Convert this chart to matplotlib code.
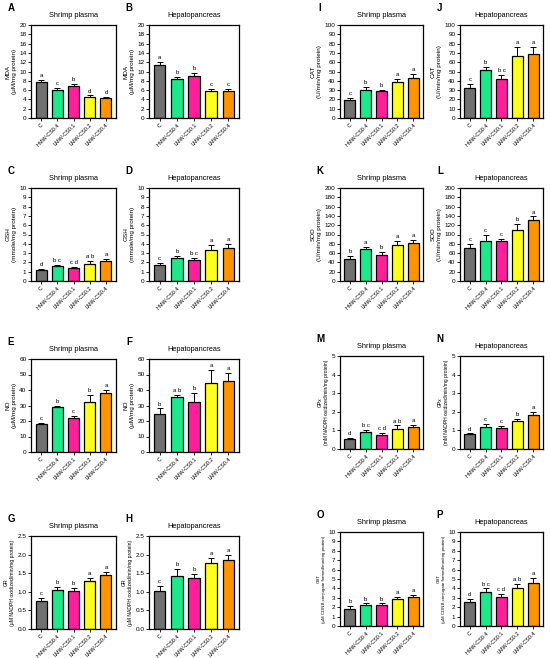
import matplotlib
matplotlib.use("Agg")
import matplotlib.pyplot as plt
import numpy as np

plt.rcParams['font.family'] = ['Liberation Sans', 'DejaVu Sans']

groups = ["C", "HMW-CS0.4", "LMW-CS0.1", "LMW-CS0.2", "LMW-CS0.4"]
colors = ["#707070", "#1fe88a", "#ff1f9a", "#ffff1f", "#ff9300"]

# values, errors, letters for each panel
mda_plasma = [7.8, 6.0, 6.9, 4.5, 4.3]
mda_plasma_err = [0.3, 0.4, 0.4, 0.35, 0.3]
mda_plasma_sig = ["a", "c", "b", "d", "d"]
mda_hep = [11.3, 8.4, 9.1, 5.8, 5.8]
mda_hep_err = [0.7, 0.5, 0.5, 0.5, 0.4]
mda_hep_sig = ["a", "b", "b", "c", "c"]

gsh_plasma = [1.2, 1.65, 1.35, 1.85, 2.1]
gsh_plasma_err = [0.1, 0.08, 0.2, 0.35, 0.3]
gsh_plasma_sig = ["d", "b c", "c d", "a b", "a"]
gsh_hep = [1.75, 2.5, 2.3, 3.3, 3.55]
gsh_hep_err = [0.15, 0.2, 0.2, 0.55, 0.4]
gsh_hep_sig = ["c", "b", "b c", "a", "a"]

no_plasma = [18.0, 29.3, 22.0, 32.0, 38.0]
no_plasma_err = [1.0, 0.5, 1.5, 5.0, 1.8]
no_plasma_sig = ["c", "b", "c", "b", "a"]
no_hep = [24.8, 35.2, 32.0, 44.5, 45.8]
no_hep_err = [3.3, 1.5, 6.0, 8.5, 5.0]
no_hep_sig = ["b", "a b", "b", "a", "a"]

gr_plasma = [0.76, 1.04, 1.01, 1.30, 1.44]
gr_plasma_err = [0.08, 0.10, 0.10, 0.08, 0.10]
gr_plasma_sig = ["c", "b", "b", "a", "a"]
gr_hep = [1.02, 1.43, 1.37, 1.78, 1.86]
gr_hep_err = [0.13, 0.19, 0.10, 0.14, 0.14]
gr_hep_sig = ["c", "b", "b", "a", "a"]

cat_plasma = [19.5, 30.5, 28.5, 38.5, 42.5]
cat_plasma_err = [2.0, 3.0, 1.5, 3.5, 5.0]
cat_plasma_sig = ["c", "b", "b", "a", "a"]
cat_hep = [32.0, 51.5, 41.8, 67.0, 68.8]
cat_hep_err = [5.0, 3.0, 4.5, 9.0, 7.5]
cat_hep_sig = ["c", "b", "b c", "a", "a"]

sod_plasma = [47.0, 69.5, 55.0, 77.0, 81.0]
sod_plasma_err = [6.0, 4.0, 8.0, 10.0, 8.0]
sod_plasma_sig = ["b", "a", "b", "a", "a"]
sod_hep = [71.0, 87.0, 86.0, 109.0, 131.0]
sod_hep_err = [9.0, 13.0, 5.0, 13.0, 8.0]
sod_hep_sig = ["c", "c", "c", "b", "a"]

gpx_plasma = [0.55, 0.92, 0.75, 1.10, 1.18]
gpx_plasma_err = [0.05, 0.10, 0.10, 0.17, 0.12]
gpx_plasma_sig = ["d", "b c", "c d", "a b", "a"]
gpx_hep = [0.80, 1.18, 1.13, 1.50, 1.83]
gpx_hep_err = [0.04, 0.15, 0.13, 0.10, 0.15]
gpx_hep_sig = ["d", "c", "c", "b", "a"]

gst_plasma = [1.85, 2.2, 2.25, 2.85, 3.1]
gst_plasma_err = [0.3, 0.2, 0.15, 0.25, 0.25]
gst_plasma_sig = ["b", "b", "b", "a", "a"]
gst_hep = [2.6, 3.6, 3.05, 4.0, 4.6]
gst_hep_err = [0.25, 0.4, 0.35, 0.5, 0.55]
gst_hep_sig = ["d", "b c", "c d", "a b", "a"]

W, H = 550, 658
fig = plt.figure(figsize=(W / 100, H / 100), dpi=100)
renderer = fig.canvas.get_renderer()

def add_panel(letter, title, box, vals, errs, sigs, ymax, ystep, ylab, fmt="{:g}"):
    l, t, r, b = box
    ax = fig.add_axes([l / W, 1 - b / H, (r - l) / W, (b - t) / H])
    x = np.arange(len(groups))
    ax.bar(x, vals, width=0.68, color=colors, edgecolor="black", linewidth=0.9, zorder=2)
    ax.errorbar(x, vals, yerr=[np.zeros(len(vals)), errs], fmt="none", ecolor="black",
                elinewidth=0.7, capsize=2.2, capthick=0.7, zorder=3)
    for xi, v, e, s in zip(x, vals, errs, sigs):
        ax.text(xi, v + e + ymax * 0.02, s, ha="center", va="bottom", fontsize=4.3)
    ax.set_xlim(-0.62, 4.62)
    ax.set_ylim(0, ymax)
    ticks = np.arange(0, ymax + ystep / 2, ystep)
    ax.set_yticks(ticks)
    ax.set_yticklabels([fmt.format(tk) for tk in ticks], fontsize=4.6)
    ax.set_xticks(x)
    ax.set_xticklabels(groups, rotation=45, ha="right", rotation_mode="anchor", fontsize=3.9)
    ax.tick_params(axis="both", length=2, width=0.6, pad=1.2)
    for sp in ax.spines.values():
        sp.set_linewidth(0.9)
    lab = ax.set_ylabel(ylab, fontsize=4.6, labelpad=2, linespacing=1.3)
    # shrink long labels to fit within the axis height
    ext = lab.get_window_extent(renderer=renderer)
    limit = 0.92 * (b - t)
    if ext.height > limit:
        lab.set_fontsize(4.6 * limit / ext.height)
    ax.set_title(title, fontsize=5.3, pad=6)
    fig.text((l - 20) / W, 1 - (t - 17) / H, letter, fontsize=7, fontweight="bold",
             ha="center", va="center")
    return ax

c1 = (31, 116); c2 = (149, 239); c3 = (340, 423); c4 = (460, 543)
r1 = (25, 118); r2 = (188, 281); r3l = (359, 452); r3r = (356, 449); r4l = (536, 629); r4r = (532, 626)

def bx(c, r):
    return (c[0], r[0], c[1], r[1])

add_panel("A", "Shrimp plasma", bx(c1, r1), mda_plasma, mda_plasma_err, mda_plasma_sig, 20, 2,
          "MDA\n(µM/mg protein)")
add_panel("B", "Hepatopancreas", bx(c2, r1), mda_hep, mda_hep_err, mda_hep_sig, 20, 2,
          "MDA\n(µM/mg protein)")
add_panel("C", "Shrimp plasma", bx(c1, r2), gsh_plasma, gsh_plasma_err, gsh_plasma_sig, 10, 1,
          "GSH\n(mmole/mg protein)")
add_panel("D", "Hepatopancreas", bx(c2, r2), gsh_hep, gsh_hep_err, gsh_hep_sig, 10, 1,
          "GSH\n(mmole/mg protein)")
add_panel("E", "Shrimp plasma", bx(c1, r3l), no_plasma, no_plasma_err, no_plasma_sig, 60, 10,
          "NO\n(µM/mg protein)")
add_panel("F", "Hepatopancreas", bx(c2, r3l), no_hep, no_hep_err, no_hep_sig, 60, 10,
          "NO\n(µM/mg protein)")
add_panel("G", "Shrimp plasma", bx(c1, r4l), gr_plasma, gr_plasma_err, gr_plasma_sig, 2.5, 0.5,
          "GR\n(µM NADPH oxidized/min/mg protein)", fmt="{:.1f}")
add_panel("H", "Hepatopancreas", bx(c2, r4l), gr_hep, gr_hep_err, gr_hep_sig, 2.5, 0.5,
          "GR\n(µM NADPH oxidized/min/mg protein)", fmt="{:.1f}")
add_panel("I", "Shrimp plasma", bx(c3, r1), cat_plasma, cat_plasma_err, cat_plasma_sig, 100, 10,
          "CAT\n(U/min/mg protein)")
add_panel("J", "Hepatopancreas", bx(c4, r1), cat_hep, cat_hep_err, cat_hep_sig, 100, 10,
          "CAT\n(U/min/mg protein)")
add_panel("K", "Shrimp plasma", bx(c3, r2), sod_plasma, sod_plasma_err, sod_plasma_sig, 200, 20,
          "SOD\n(U/min/mg protein)")
add_panel("L", "Hepatopancreas", bx(c4, r2), sod_hep, sod_hep_err, sod_hep_sig, 200, 20,
          "SOD\n(U/min/mg protein)")
add_panel("M", "Shrimp plasma", bx(c3, r3r), gpx_plasma, gpx_plasma_err, gpx_plasma_sig, 5, 1,
          "GPx\n(mM NADPH oxidized/min/mg protein)")
add_panel("N", "Hepatopancreas", bx(c4, r3r), gpx_hep, gpx_hep_err, gpx_hep_sig, 5, 1,
          "GPx\n(mM NADPH oxidized/min/mg protein)")
add_panel("O", "Shrimp plasma", bx(c3, r4r), gst_plasma, gst_plasma_err, gst_plasma_sig, 10, 1,
          "GST\n(µM CDNB conjugate formed/min/mg protein)")
add_panel("P", "Hepatopancreas", bx(c4, r4r), gst_hep, gst_hep_err, gst_hep_sig, 10, 1,
          "GST\n(µM CDNB conjugate formed/min/mg protein)")

fig.savefig("out.png", dpi=100, facecolor="white")
